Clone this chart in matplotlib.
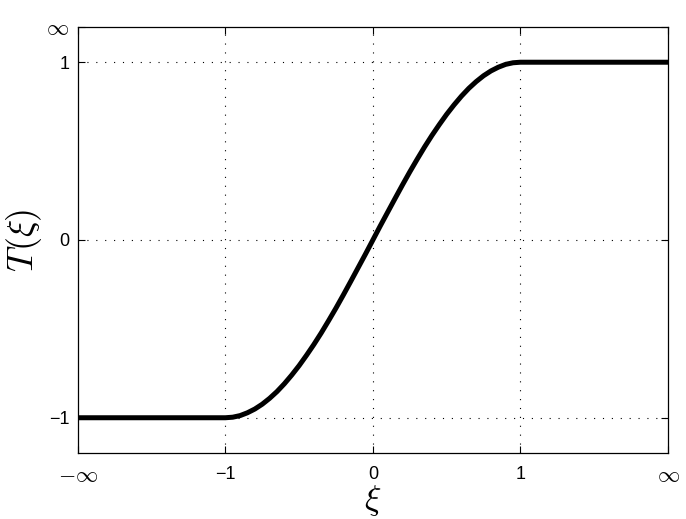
import matplotlib
matplotlib.use("Agg")
import matplotlib.pyplot as plt

# curve (flat at -1 and +1 outside [-1, 1])
xi_pos = [0.0, 0.05, 0.1, 0.15, 0.2, 0.25, 0.3, 0.35, 0.4, 0.45, 0.5,
          0.55, 0.6, 0.65, 0.7, 0.75, 0.8, 0.85, 0.9, 0.95, 1.0, 2.0]
T_pos = [0.0, 0.079, 0.156, 0.233, 0.309, 0.383, 0.454, 0.523, 0.588, 0.649, 0.707,
         0.760, 0.809, 0.853, 0.891, 0.924, 0.951, 0.972, 0.988, 0.997, 1.0, 1.0]
# curve is odd-symmetric about the origin
xi = [-x for x in xi_pos[::-1]] + xi_pos[1:]
T = [-t for t in T_pos[::-1]] + T_pos[1:]

xticks = [-2, -1, 0, 1, 2]
xticklabels = [r'${-}\infty$', '\u22121', '0', '1', r'$\infty$']
yticks = [-1, 0, 1, 1.2]
yticklabels = ['\u22121', '0', '1', r'$\infty$']

plt.rcParams['font.family'] = ['Liberation Sans', 'DejaVu Sans']
plt.rcParams['mathtext.fontset'] = 'cm'

fig = plt.figure(figsize=(6.86, 5.19), dpi=100)
ax = fig.add_axes([0.1133, 0.1266, 0.8605, 0.822])

# dotted grid
for g in [-1, 0, 1]:
    ax.axvline(g, color='k', lw=0.8, ls=(0, (1, 7)), zorder=1)
    ax.axhline(g, color='k', lw=0.8, ls=(0, (1, 7)), zorder=1)

ax.plot(xi, T, color='k', lw=3.6, solid_capstyle='butt',
        solid_joinstyle='round', zorder=3)

ax.set_xlim(-2, 2)
ax.set_ylim(-1.2, 1.2)
ax.set_xticks(xticks)
ax.set_xticklabels(xticklabels)
ax.set_yticks(yticks)
ax.set_yticklabels(yticklabels)
ax.tick_params(direction='in', length=5, width=0.8, labelsize=13,
               top=True, right=True)
ax.tick_params(axis='x', pad=9)
ax.tick_params(axis='y', pad=6)
for s in ax.spines.values():
    s.set_linewidth(0.9)

# infinity labels drawn larger, as in the original
for lab in ax.get_xticklabels() + ax.get_yticklabels():
    if 'infty' in lab.get_text():
        lab.set_fontsize(16)

ax.set_xlabel(r'$\xi$', fontsize=25, labelpad=-3)
ax.set_ylabel(r'$T(\xi)$', fontsize=26, labelpad=2)

fig.savefig('out.png', dpi=100)
